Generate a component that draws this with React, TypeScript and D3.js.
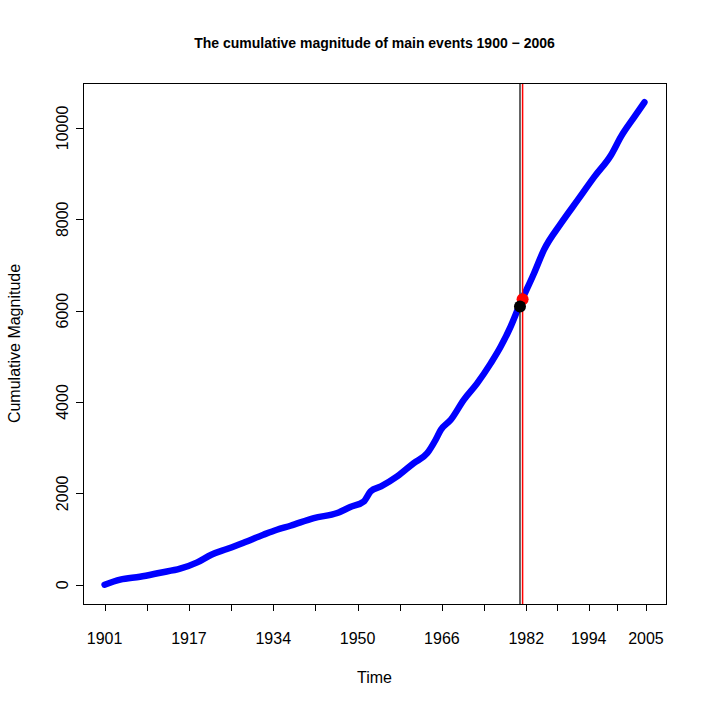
import * as d3 from 'd3';
import { useEffect, useRef } from 'react';

// cumulative magnitude
const years = [
  1901, 1904, 1907.8, 1911.7, 1915.5, 1918.8, 1921.5, 1924.5, 1927.7, 1931.5,
  1934.1, 1936.7, 1941.2, 1945.7, 1948.2, 1950.8, 1952.1, 1954.1, 1957.2, 1960.4,
  1963.0, 1964.6, 1965.6, 1967.5, 1970.0, 1972.6, 1975.2, 1977.1, 1979.0, 1980.6,
  1983.5, 1985.4, 1988.7, 1991.9, 1995.1, 1998.3, 2000.2, 2002.8, 2004.7,
];
const cumMagnitude = [
  0, 110, 175, 263, 350, 488, 656, 781, 919, 1094,
  1204, 1291, 1460, 1569, 1700, 1823, 2042, 2151, 2370, 2663,
  2882, 3173, 3392, 3611, 4048, 4414, 4851, 5214, 5652, 6090,
  6820, 7330, 7915, 8424, 8934, 9409, 9810, 10247, 10562,
];

const xTicks = [1901, 1909.1, 1917.2, 1925.3, 1933.4, 1941.5, 1949.6, 1957.7, 1965.8, 1973.9, 1982, 1988, 1994, 1999.5, 2005];
const xTickLabels = ['1901', '', '1917', '', '1934', '', '1950', '', '1966', '', '1982', '', '1994', '', '2005'];
const yTicks = [0, 2000, 4000, 6000, 8000, 10000];

// marked events: [year, cumulative value]
const blackEvent = [1980.8, 6090];
const redEvent = [1981.3, 6250];

const W = 708;
const H = 708;
const margin = { top: 83, right: 42, bottom: 104, left: 83 };
const font = 'Liberation Sans, Arial, Helvetica, sans-serif';

export default function App() {
  const ref = useRef<SVGSVGElement>(null);

  useEffect(() => {
    const svg = d3.select(ref.current);
    svg.selectAll('*').remove();

    const pw = W - margin.left - margin.right;
    const ph = H - margin.top - margin.bottom;

    // R style 4% padding on both ends
    const xMin = d3.min(years)!;
    const xMax = d3.max(years)!;
    const yMin = d3.min(cumMagnitude)!;
    const yMax = d3.max(cumMagnitude)!;
    const xPad = (xMax - xMin) * 0.04;
    const yPad = (yMax - yMin) * 0.04;

    const x = d3.scaleLinear().domain([xMin - xPad, xMax + xPad]).range([margin.left, margin.left + pw]);
    const y = d3.scaleLinear().domain([yMin - yPad, yMax + yPad]).range([margin.top + ph, margin.top]);

    svg.append('rect')
      .attr('width', W).attr('height', H).attr('fill', 'white');

    const pts = years.map((yr, i) => [yr, cumMagnitude[i]] as [number, number]);
    const line = d3.line<[number, number]>()
      .x(d => x(d[0]))
      .y(d => y(d[1]))
      .curve(d3.curveMonotoneX);

    svg.append('path')
      .attr('d', line(pts))
      .attr('fill', 'none')
      .attr('stroke', '#0000ff')
      .attr('stroke-width', 6.5)
      .attr('stroke-linecap', 'round')
      .attr('stroke-linejoin', 'round');

    svg.append('line')
      .attr('x1', x(blackEvent[0])).attr('x2', x(blackEvent[0]))
      .attr('y1', margin.top).attr('y2', margin.top + ph)
      .attr('stroke', 'black').attr('stroke-width', 1.2);
    svg.append('line')
      .attr('x1', x(redEvent[0])).attr('x2', x(redEvent[0]))
      .attr('y1', margin.top).attr('y2', margin.top + ph)
      .attr('stroke', 'red').attr('stroke-width', 1.5);

    svg.append('circle')
      .attr('cx', x(redEvent[0])).attr('cy', y(redEvent[1]))
      .attr('r', 6).attr('fill', 'red');
    svg.append('circle')
      .attr('cx', x(blackEvent[0])).attr('cy', y(blackEvent[1]))
      .attr('r', 6).attr('fill', 'black');

    // frame
    svg.append('rect')
      .attr('x', margin.left + 0.5).attr('y', margin.top + 0.5)
      .attr('width', pw).attr('height', ph)
      .attr('fill', 'none').attr('stroke', 'black').attr('stroke-width', 1);

    // x axis
    const xAxis = svg.append('g').attr('font-family', font).attr('font-size', 16);
    xTicks.forEach((t, i) => {
      const px = Math.round(x(t)) + 0.5;
      xAxis.append('line')
        .attr('x1', px).attr('x2', px)
        .attr('y1', margin.top + ph).attr('y2', margin.top + ph + 7)
        .attr('stroke', 'black');
      if (xTickLabels[i]) {
        xAxis.append('text')
          .attr('x', x(t)).attr('y', 644)
          .attr('text-anchor', 'middle')
          .text(xTickLabels[i]);
      }
    });

    // y axis
    const yAxis = svg.append('g').attr('font-family', font).attr('font-size', 16);
    yTicks.forEach(t => {
      const py = Math.round(y(t)) + 0.5;
      yAxis.append('line')
        .attr('x1', margin.left - 7).attr('x2', margin.left)
        .attr('y1', py).attr('y2', py)
        .attr('stroke', 'black');
      yAxis.append('text')
        .attr('transform', `translate(68, ${y(t)}) rotate(-90)`)
        .attr('text-anchor', 'middle')
        .text(String(t));
    });

    svg.append('text')
      .attr('x', margin.left + pw / 2).attr('y', 48)
      .attr('text-anchor', 'middle')
      .attr('font-family', font).attr('font-size', 14).attr('font-weight', 'bold')
      .text('The cumulative magnitude of main events 1900 \u2212 2006');

    svg.append('text')
      .attr('x', margin.left + pw / 2).attr('y', 683)
      .attr('text-anchor', 'middle')
      .attr('font-family', font).attr('font-size', 16)
      .text('Time');

    svg.append('text')
      .attr('transform', `translate(20, ${margin.top + ph / 2}) rotate(-90)`)
      .attr('text-anchor', 'middle')
      .attr('font-family', font).attr('font-size', 16)
      .text('Cumulative Magnitude');
  }, []);

  return (
    <div style={{ position: 'fixed', left: 0, top: 0 }}>
      <svg ref={ref} width={W} height={H} style={{ display: 'block' }} />
    </div>
  );
}
